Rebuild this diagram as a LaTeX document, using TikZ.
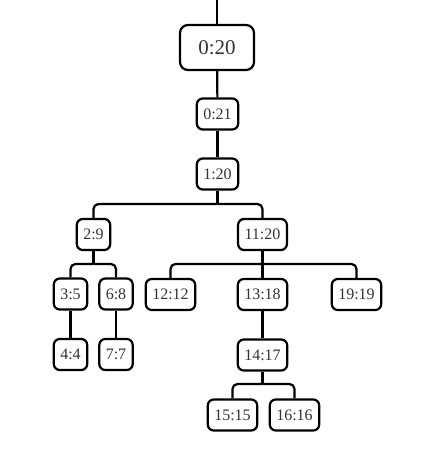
\documentclass[tikz,border=0pt]{standalone}
\usepackage{fontspec}
\setmainfont{Liberation Serif}
\tikzset{
  box/.style={draw, line width=2.2pt, rounded corners=6pt, text=black!80,
    inner xsep=6.5pt, inner ysep=0pt, minimum height=31pt,
    font=\fontsize{16}{19}\selectfont},
  rootbox/.style={box, minimum width=74pt, minimum height=45pt,
    rounded corners=8pt, font=\fontsize{21}{25}\selectfont},
  link/.style={line width=2.2pt, rounded corners=5pt}
}
\begin{document}
\begin{tikzpicture}[x=1pt,y=-1pt]
                \useasboundingbox (0,0) rectangle (431,450);
                % nodes
                \node[rootbox] (n020) at (217,47.5) {0:20};
                \node[box] (n021) at (217.5,114) {0:21};
                \node[box] (n120) at (217.5,174) {1:20};
                \node[box] (n29) at (93.5,234.5) {2:9};
                \node[box] (n1120) at (262.5,234.5) {11:20};
                \node[box] (n35) at (70.5,294) {3:5};
                \node[box] (n68) at (116,294) {6:8};
                \node[box] (n1212) at (170.5,294.5) {12:12};
                \node[box] (n1318) at (262.5,294.5) {13:18};
                \node[box] (n1919) at (356.5,294.5) {19:19};
                \node[box] (n44) at (70.5,354.5) {4:4};
                \node[box] (n77) at (116,354.5) {7:7};
                \node[box] (n1417) at (262.5,355) {14:17};
                \node[box] (n1515) at (232.5,415) {15:15};
                \node[box] (n1616) at (294.5,415) {16:16};

                % junctions
                \coordinate (top) at (217,0);
                \coordinate (j120) at (217.5,204);
                \coordinate (j29) at (93.5,264);
                \coordinate (j1120) at (262.5,264);
                \coordinate (j1417) at (262.5,384);

                % links
                \draw[link] (top) -- (n020);
                \draw[link] (n020) -- (n021);
                \draw[link] (n021) -- (n120);
                \draw[link] (n120) -- (j120);
                \draw[link] (n29.north) |- (j120);
                \draw[link] (n1120.north) |- (j120);
                \draw[link] (n29) -- (j29);
                \draw[link] (n35.north) |- (j29);
                \draw[link] (n68.north) |- (j29);
                \draw[link] (n1120) -- (n1318);
                \draw[link] (n1212.north) |- (j1120);
                \draw[link] (n1919.north) |- (j1120);
                \draw[link] (n35) -- (n44);
                \draw[link] (n68) -- (n77);
                \draw[link] (n1318) -- (n1417);
                \draw[link] (n1417) -- (j1417);
                \draw[link] (n1515.north) |- (j1417);
                \draw[link] (n1616.north) |- (j1417);
\end{tikzpicture}
\end{document}
